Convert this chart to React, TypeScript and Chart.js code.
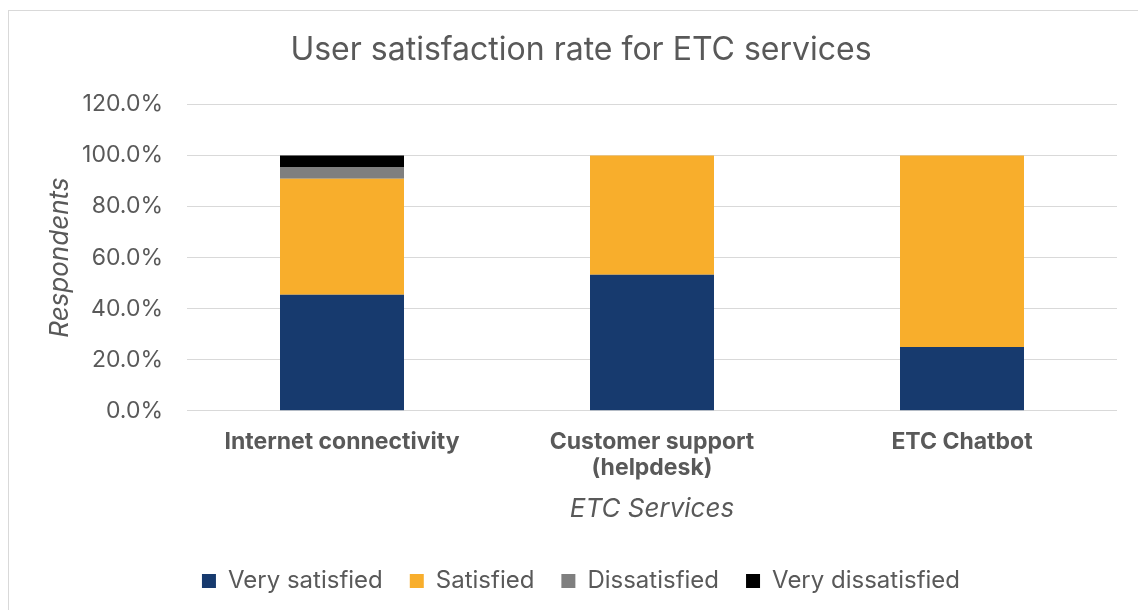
import React, { useEffect, useRef } from "react";
import { Chart, registerables } from "chart.js";

Chart.register(...registerables);

const categories: (string | string[])[] = [
  "Internet connectivity",
  ["Customer support", "(helpdesk)"],
  "ETC Chatbot",
];
const verySatisfied = [45.45, 53.33, 25.0];
const satisfied = [45.45, 46.67, 75.0];
const dissatisfied = [4.55, 0, 0];
const veryDissatisfied = [4.55, 0, 0];
const yTicks = [0, 20, 40, 60, 80, 100, 120];

const FONT = "Inter, 'Noto Sans', sans-serif";
const TEXT = "#595959";

export default function App() {
  const ref = useRef<HTMLCanvasElement | null>(null);
  useEffect(() => {
    if (!ref.current) return;
    const chart = new Chart(ref.current, {
      type: "bar",
      data: {
        labels: categories,
        datasets: [
          { label: "Very satisfied", data: verySatisfied, backgroundColor: "#173A6E" },
          { label: "Satisfied", data: satisfied, backgroundColor: "#F8AE2C" },
          { label: "Dissatisfied", data: dissatisfied, backgroundColor: "#7F7F7F" },
          { label: "Very dissatisfied", data: veryDissatisfied, backgroundColor: "#000000" },
        ],
      },
      options: {
        animation: false,
        responsive: false,
        maintainAspectRatio: false,
        layout: { padding: { left: 36, right: 28, top: 0, bottom: 0 } },
        datasets: { bar: { barPercentage: 0.4, categoryPercentage: 1.0 } },
        plugins: {
          title: {
            display: true,
            text: "User satisfaction rate for ETC services",
            color: TEXT,
            font: { family: FONT, size: 32, weight: "normal" },
            padding: { top: 20, bottom: 35 },
          },
          legend: {
            position: "bottom",
            labels: {
              color: TEXT,
              font: { family: FONT, size: 24 },
              boxWidth: 14,
              boxHeight: 14,
              padding: 27,
            },
          },
          tooltip: { enabled: false },
        },
        scales: {
          x: {
            stacked: true,
            grid: { display: false, drawTicks: false },
            border: { display: false },
            ticks: {
              color: TEXT,
              font: { family: FONT, size: 23, weight: "bold", lineHeight: 1.13 },
              padding: 18,
              maxRotation: 0,
            },
            title: {
              display: true,
              text: "ETC Services",
              color: TEXT,
              font: { family: FONT, size: 26, style: "italic" },
              padding: { top: 0, bottom: 17.6 },
            },
            afterFit: (axis: any) => {
              axis.height = 131.2;
            },
          },
          y: {
            stacked: true,
            min: 0,
            max: 120,
            afterBuildTicks: (axis: any) => {
              axis.ticks = yTicks.map((v) => ({ value: v }));
            },
            afterFit: (axis: any) => {
              axis.width = 142;
            },
            grid: { color: "#D9D9D9", lineWidth: 1, drawTicks: false },
            border: { display: false },
            ticks: {
              color: TEXT,
              font: { family: FONT, size: 23 },
              padding: 24,
              callback: (v: any) => Number(v).toFixed(1) + "%",
            },
            title: {
              display: true,
              text: "Respondents",
              color: TEXT,
              font: { family: FONT, size: 26, style: "italic" },
              padding: { top: 0, bottom: 0 },
            },
          },
        },
      },
    });
    return () => chart.destroy();
  }, []);
  return (
    <div
      style={{
        width: 1136,
        height: 599,
        marginTop: 2,
        overflow: "hidden",
        border: "1px solid #D9D9D9",
        borderBottom: "none",
        background: "#fff",
      }}
    >
      <canvas ref={ref} width={1136} height={592} style={{ display: "block" }} />
    </div>
  );
}
